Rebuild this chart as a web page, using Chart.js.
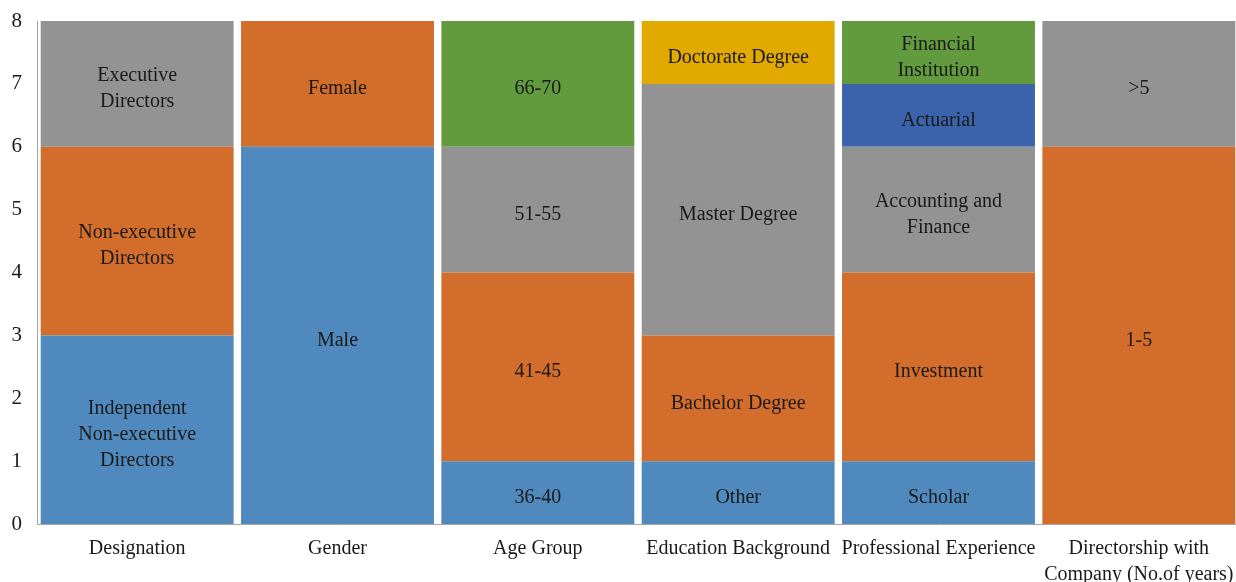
<!DOCTYPE html>
<html>
<head>
<meta charset="utf-8">
<script src="https://cdn.jsdelivr.net/npm/chart.js@4.4.0/dist/chart.umd.min.js"></script>
<style>
  html, body { margin: 0; padding: 0; background: #fff; overflow: hidden; }
  #wrap { width: 1236px; height: 582px; overflow: hidden; }
</style>
</head>
<body>
<div id="wrap"><canvas id="chart" width="1239" height="582"></canvas></div>
<script>
const categories = ['Designation', 'Gender', 'Age Group', 'Education Background',
    'Professional Experience', ['Directorship with', 'Company (No.of years)']];

// stack levels, bottom to top
const level1 = [3, 6, 1, 1, 1, 6];
const level2 = [3, 2, 3, 2, 3, 2];
const level3 = [2, null, 2, 4, 2, null];
const level4 = [null, null, 2, 1, 1, null];
const level5 = [null, null, null, null, 1, null];

const names1 = ['Independent\nNon-executive\nDirectors', 'Male', '36-40', 'Other', 'Scholar', '1-5'];
const names2 = ['Non-executive\nDirectors', 'Female', '41-45', 'Bachelor Degree', 'Investment', '>5'];
const names3 = ['Executive\nDirectors', '', '51-55', 'Master Degree', 'Accounting and\nFinance', ''];
const names4 = ['', '', '66-70', 'Doctorate Degree', 'Actuarial', ''];
const names5 = ['', '', '', '', 'Financial\nInstitution', ''];

const BLUE = '#4f89bd', ORANGE = '#d26d2b', GRAY = '#939393',
      GREEN = '#629a3e', YELLOW = '#e2a900', DKBLUE = '#3b63ab';

const colors1 = [BLUE, BLUE, BLUE, BLUE, BLUE, ORANGE];
const colors2 = [ORANGE, ORANGE, ORANGE, ORANGE, ORANGE, GRAY];
const colors3 = [GRAY, GRAY, GRAY, GRAY, GRAY, GRAY];
const colors4 = [GREEN, GREEN, GREEN, YELLOW, DKBLUE, GREEN];
const colors5 = [GREEN, GREEN, GREEN, GREEN, GREEN, GREEN];

const FONT = "'Liberation Serif', 'DejaVu Serif', serif";

function mkSet(data, colors, names) {
    return {
        data: data,
        backgroundColor: colors,
        segNames: names,
        borderWidth: 0,
        barPercentage: 0.963,
        categoryPercentage: 1.0
    };
}

// draws the segment names in the middle of each bar piece
const segLabels = {
    id: 'segLabels',
    afterDatasetsDraw(chart) {
        const ctx = chart.ctx;
        ctx.save();
        ctx.font = '20px ' + FONT;
        ctx.fillStyle = '#1a1a1a';
        ctx.textAlign = 'center';
        ctx.textBaseline = 'middle';
        chart.data.datasets.forEach((ds, i) => {
            const meta = chart.getDatasetMeta(i);
            meta.data.forEach((bar, j) => {
                const txt = ds.segNames[j];
                if (!txt || ds.data[j] == null) return;
                const lines = txt.split('\n');
                const lh = 26;
                const cy = (bar.y + bar.base) / 2 + 5 - (lines.length - 1) * lh / 2;
                lines.forEach((ln, k) => ctx.fillText(ln, bar.x, cy + k * lh));
            });
        });
        ctx.restore();
    }
};

new Chart(document.getElementById('chart'), {
    type: 'bar',
    data: {
        labels: categories,
        datasets: [
            mkSet(level1, colors1, names1),
            mkSet(level2, colors2, names2),
            mkSet(level3, colors3, names3),
            mkSet(level4, colors4, names4),
            mkSet(level5, colors5, names5)
        ]
    },
    options: {
        responsive: false,
        animation: false,
        layout: { padding: { top: 21, right: 0, left: 0, bottom: 0 } },
        plugins: {
            legend: { display: false },
            tooltip: { enabled: false }
        },
        scales: {
            x: {
                stacked: true,
                grid: { display: false, drawTicks: false },
                border: { color: '#a6a6a6', width: 1 },
                ticks: {
                    color: '#1a1a1a',
                    font: { family: FONT, size: 20, lineHeight: 1.3 },
                    maxRotation: 0,
                    autoSkip: false,
                    padding: 12
                },
                afterFit: (axis) => {
                    axis.height = 58;
                    axis.paddingLeft = 0;
                    axis.paddingRight = 0;
                }
            },
            y: {
                stacked: true,
                min: 0,
                max: 8,
                grid: { display: false, drawTicks: false },
                border: { color: '#a6a6a6', width: 1 },
                ticks: {
                    stepSize: 1,
                    color: '#1a1a1a',
                    font: { family: FONT, size: 21 },
                    padding: 15
                },
                afterFit: (axis) => {
                    axis.width = 37;
                    axis.paddingTop = 0;
                    axis.paddingBottom = 0;
                }
            }
        }
    },
    plugins: [segLabels]
});
</script>
</body>
</html>
